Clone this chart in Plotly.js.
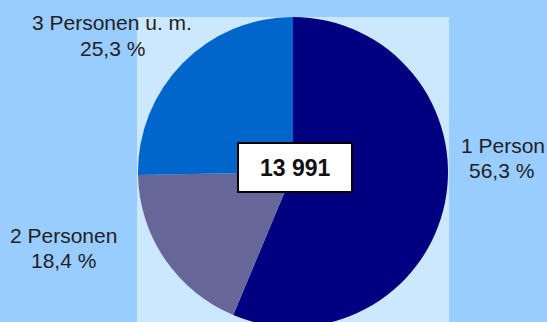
<!DOCTYPE html>
<html>
<head>
<meta charset="utf-8">
<script src="https://cdn.plot.ly/plotly-3.0.1.min.js"></script>
<style>
html,body{margin:0;padding:0;overflow:hidden;background:#99ccff;}
#chart{width:547px;height:340px;}
</style>
</head>
<body>
<div id="chart"></div>
<script>
const categories = ["1 Person", "2 Personen", "3 Personen u. m."];
const shares = [56.3, 18.4, 25.3];
const shareLabels = ["56,3 %", "18,4 %", "25,3 %"];
const totalLabel = "13 991";
const colors = ["#000080", "#666699", "#0066cc"];

const W = 547, H = 340;
const px = x => x / W;
const py = y => (H - y) / H;

const labelPos = [
  {x: 503, y1: 145, x2: 501, y2: 170},
  {x: 63, y1: 235, x2: 63, y2: 260},
  {x: 112, y1: 23, x2: 112, y2: 48}
];
const labelFont = {family: "Liberation Sans, Arial, sans-serif", size: 21, color: "#222222"};

const annotations = [];
categories.forEach((c, i) => {
  const p = labelPos[i];
  annotations.push({text: c, x: px(p.x), y: py(p.y1), xref: "paper", yref: "paper",
    xanchor: "center", yanchor: "middle", showarrow: false, font: labelFont});
  annotations.push({text: shareLabels[i], x: px(p.x2), y: py(p.y2), xref: "paper", yref: "paper",
    xanchor: "center", yanchor: "middle", showarrow: false, font: labelFont});
});
annotations.push({text: "<b>" + totalLabel + "</b>", x: px(295), y: py(168), xref: "paper", yref: "paper",
  xanchor: "center", yanchor: "middle", showarrow: false,
  font: {family: "Liberation Sans, Arial, sans-serif", size: 23, color: "#111111"}});

const data = [{
  type: "pie",
  labels: categories,
  values: shares,
  sort: false,
  direction: "clockwise",
  rotation: 0,
  marker: {colors: colors, line: {width: 0}},
  textinfo: "none",
  textposition: "none",
  hoverinfo: "none",
  showlegend: false,
  domain: {x: [px(138), px(448)], y: [py(327), py(17)]}
}];

const layout = {
  width: W, height: H,
  margin: {l: 0, r: 0, t: 0, b: 0},
  paper_bgcolor: "#99ccff",
  plot_bgcolor: "#99ccff",
  showlegend: false,
  shapes: [
    {type: "rect", xref: "paper", yref: "paper", x0: px(137), x1: px(449), y0: 0, y1: py(17),
      fillcolor: "#cce8ff", line: {width: 0}, layer: "below"},
    {type: "rect", xref: "paper", yref: "paper", x0: px(238), x1: px(352), y0: py(192), y1: py(143),
      fillcolor: "#ffffff", line: {color: "#000000", width: 2}, layer: "above"}
  ],
  annotations: annotations
};

Plotly.newPlot("chart", data, layout, {staticPlot: true, displayModeBar: false});
</script>
</body>
</html>
